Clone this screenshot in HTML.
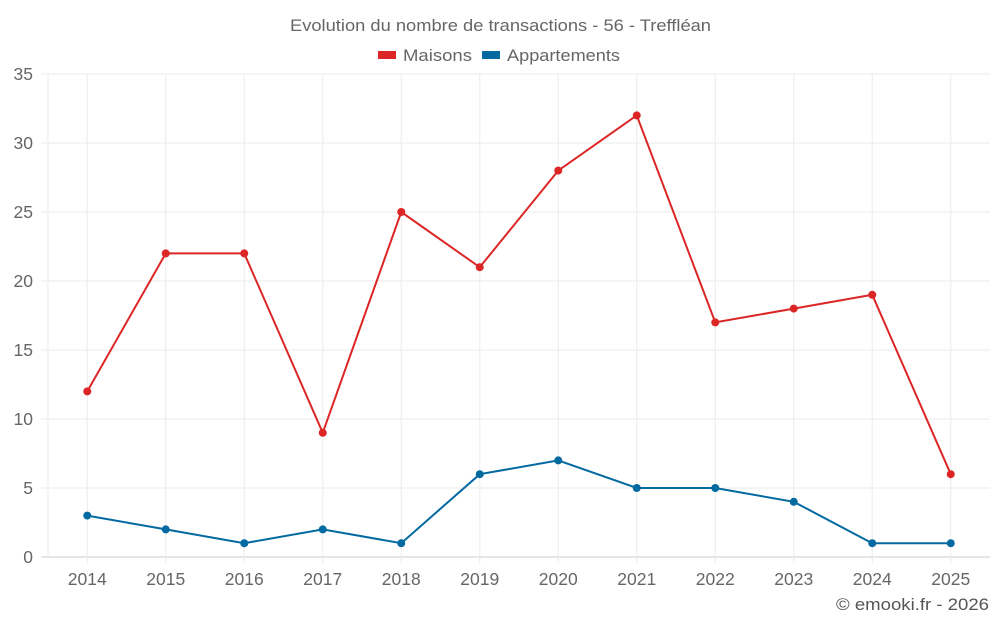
<!DOCTYPE html>
<html><head><meta charset="utf-8"><style>
body{margin:0;background:#fff;width:1000px;height:625px;overflow:hidden;font-family:"Liberation Sans",sans-serif}
</style></head><body>
<svg id="chart" width="1000" height="625" xmlns="http://www.w3.org/2000/svg" font-family="Liberation Sans, sans-serif">
<text x="290" y="31" font-size="17" fill="#666" textLength="421" lengthAdjust="spacingAndGlyphs">Evolution du nombre de transactions - 56 - Treffléan</text>
<g><rect x="378" y="51" width="18" height="8" fill="#dc2626"/><text x="403" y="61" font-size="17" fill="#666" textLength="69" lengthAdjust="spacingAndGlyphs">Maisons</text></g>
<g><rect x="482" y="51" width="18" height="8" fill="#0369a1"/><text x="507" y="61" font-size="17" fill="#666" textLength="113" lengthAdjust="spacingAndGlyphs">Appartements</text></g>
<g id="grid"></g><g id="series"></g>
<text x="836" y="610" font-size="17" fill="#555" textLength="153" lengthAdjust="spacingAndGlyphs">© emooki.fr - 2026</text>
</svg>
<script>
const categories=["2014","2015","2016","2017","2018","2019","2020","2021","2022","2023","2024","2025"];
const maisons=[12,22,22,9,25,21,28,32,17,18,19,6];
const appartements=[3,2,1,2,1,6,7,5,5,4,1,1];
const yTicks=[0,5,10,15,20,25,30,35];
const NS="http://www.w3.org/2000/svg";
const L=48,R=990,T=74,B=557,yMax=35;
const bw=(R-L)/categories.length;
const x=i=>L+bw*(i+0.5);
const y=v=>B-(v/yMax)*(B-T);
const grid=document.getElementById('grid'),ser=document.getElementById('series');
function mk(tag,at,p){const e=document.createElementNS(NS,tag);for(const k in at)e.setAttribute(k,at[k]);p.appendChild(e);return e;}
yTicks.forEach(t=>{
 const l=mk('line',{x1:41,x2:R,y1:y(t),y2:y(t),stroke:t===0?'#ccc':'#ebebeb'},grid);
 
 
 const tx=mk('text',{x:33,y:y(t)+6,'text-anchor':'end','font-size':17.5,fill:'#666'},grid);tx.textContent=t;
 
 
});
mk('line',{x1:L,x2:L,y1:T,y2:B,stroke:'#ebebeb'},grid);
categories.forEach((c,i)=>{
 const l=mk('line',{x1:x(i),x2:x(i),y1:T,y2:B+6,stroke:'#ebebeb'},grid);
 
 
 const tx=mk('text',{x:x(i),y:585,'text-anchor':'middle','font-size':17.5,fill:'#666'},grid);tx.textContent=c;
 
 
});
function draw(vals,col,name){
 const p=mk('polyline',{points:vals.map((v,i)=>x(i)+','+y(v)).join(' '),fill:'none',stroke:col,'stroke-width':2},ser);
 
 
 vals.forEach((v,i)=>{const c=mk('circle',{cx:x(i),cy:y(v),r:4,fill:col},ser);
  
  });
}
draw(maisons,'#dc2626','maisons');
draw(appartements,'#0369a1','appartements');
</script>
</body></html>
